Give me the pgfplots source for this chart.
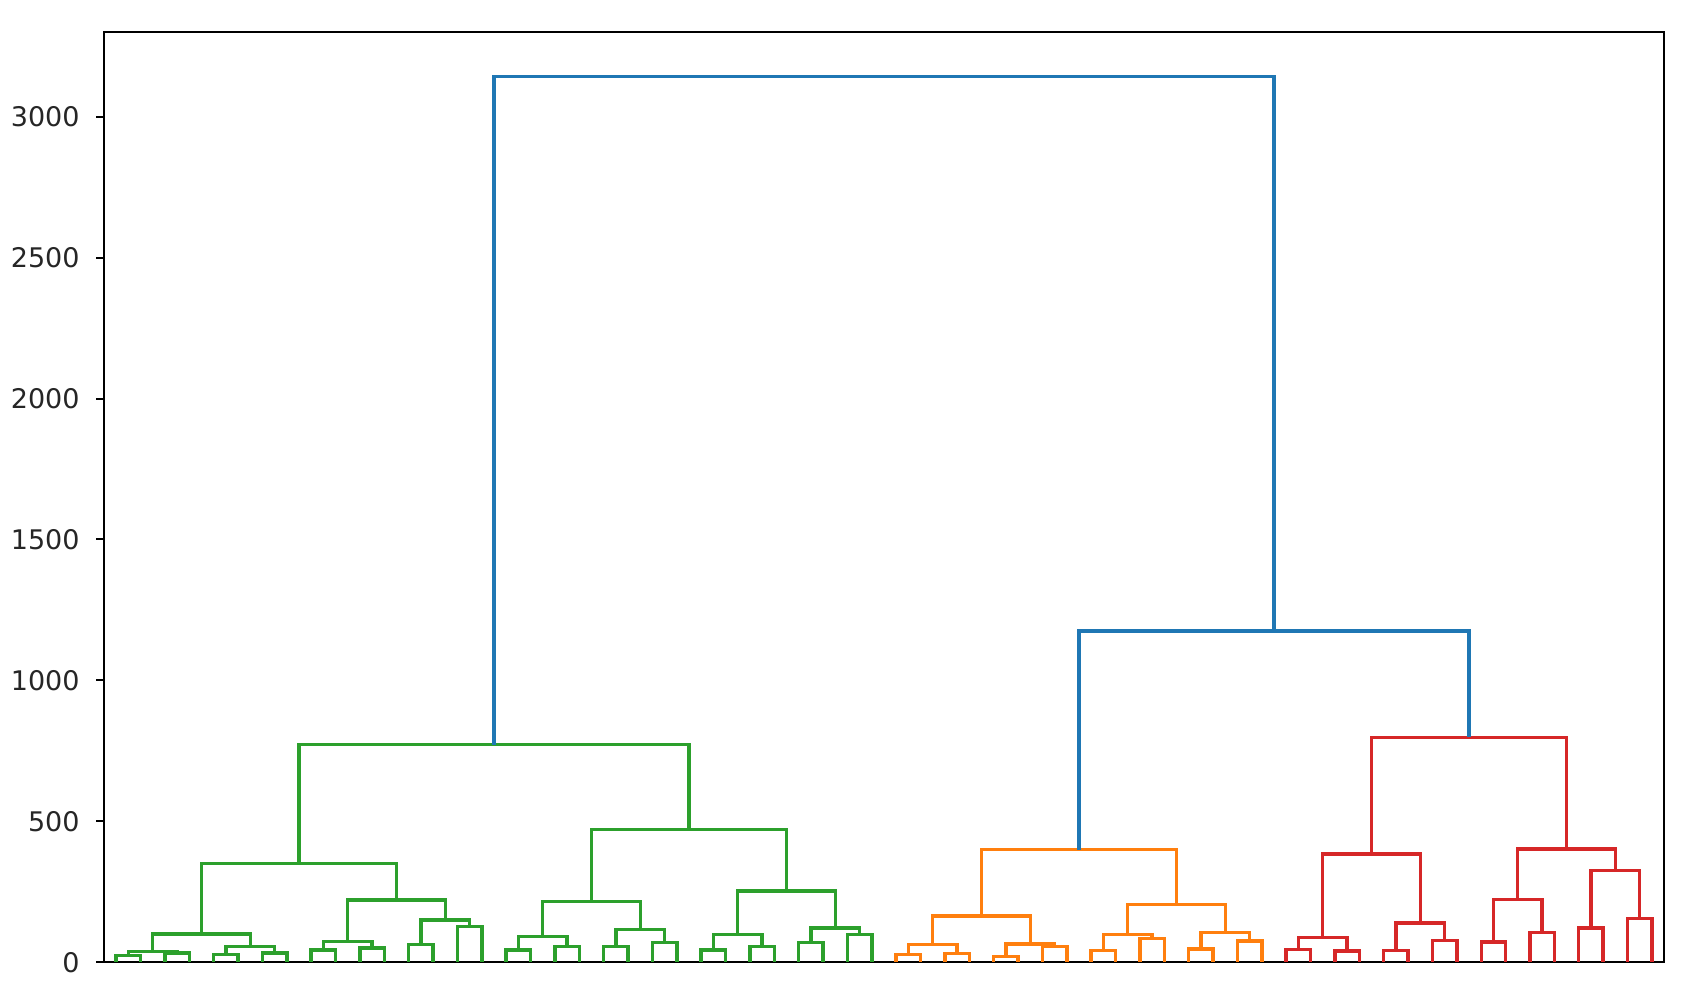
\documentclass[border=0pt]{standalone}
\usepackage{fontspec}
\setmainfont{DejaVu Sans}
\usepackage{pgfplots}
\pgfplotsset{compat=1.18}
\definecolor{mblue}{HTML}{1F77B4}
\definecolor{morange}{HTML}{FF7F0E}
\definecolor{mgreen}{HTML}{2CA02C}
\definecolor{mred}{HTML}{D62728}
% \U{colour}{x left}{h left}{x right}{h right}{merge height}
\newcommand{\U}[6]{\addplot[#1] coordinates {(#2,#3) (#2,#6) (#4,#6) (#4,#5)};}
\begin{document}
\begin{tikzpicture}
\useasboundingbox (-26pt,-8.85pt) rectangle (394.25pt,240.55pt);
\begin{axis}[
  at={(0,0)}, anchor=south west,
  width=390pt, height=232.5pt, scale only axis,
  xmin=0, xmax=640, ymin=0, ymax=3300,
  xtick=\empty,
  ytick={0,500,1000,1500,2000,2500,3000},
  axis line style={black, line width=0.5pt},
  tick align=outside,
  major tick length=1.9pt,
  ytick pos=left,
  every tick/.style={black, line width=0.5pt},
  /pgf/number format/assume math mode=true,
  /pgf/number format/1000 sep={},
  yticklabel style={font=\fontsize{6.75}{8}\selectfont, text=black!85, anchor=east, inner sep=0pt, xshift=-4pt},
  every axis plot/.append style={line width=0.85pt},
  clip=false,
]
% ---- green cluster (leaves 0-31)
\U{mgreen}{5}{0}{15}{0}{24}
\U{mgreen}{25}{0}{35}{0}{33}
\U{mgreen}{10}{24}{30}{33}{38}
\U{mgreen}{45}{0}{55}{0}{27}
\U{mgreen}{65}{0}{75}{0}{32}
\U{mgreen}{50}{27}{70}{32}{55}
\U{mgreen}{20}{38}{60}{55}{100}
\U{mgreen}{85}{0}{95}{0}{44}
\U{mgreen}{105}{0}{115}{0}{51}
\U{mgreen}{90}{44}{110}{51}{73}
\U{mgreen}{125}{0}{135}{0}{62}
\U{mgreen}{145}{0}{155}{0}{127}
\U{mgreen}{130}{62}{150}{127}{150}
\U{mgreen}{100}{73}{140}{150}{221}
\U{mgreen}{40}{100}{120}{221}{351}
\U{mgreen}{165}{0}{175}{0}{44}
\U{mgreen}{185}{0}{195}{0}{56}
\U{mgreen}{170}{44}{190}{56}{92}
\U{mgreen}{205}{0}{215}{0}{56}
\U{mgreen}{225}{0}{235}{0}{69}
\U{mgreen}{210}{56}{230}{69}{115}
\U{mgreen}{180}{92}{220}{115}{215}
\U{mgreen}{245}{0}{255}{0}{44}
\U{mgreen}{265}{0}{275}{0}{56}
\U{mgreen}{250}{44}{270}{56}{98}
\U{mgreen}{285}{0}{295}{0}{69}
\U{mgreen}{305}{0}{315}{0}{98}
\U{mgreen}{290}{69}{310}{98}{121}
\U{mgreen}{260}{98}{300}{121}{252}
\U{mgreen}{200}{215}{280}{252}{471}
\U{mgreen}{80}{351}{240}{471}{772}
% ---- orange cluster (leaves 32-47)
\U{morange}{325}{0}{335}{0}{27}
\U{morange}{345}{0}{355}{0}{30}
\U{morange}{330}{27}{350}{30}{62}
\U{morange}{365}{0}{375}{0}{21}
\U{morange}{385}{0}{395}{0}{56}
\U{morange}{370}{21}{390}{56}{65}
\U{morange}{340}{62}{380}{65}{164}
\U{morange}{405}{0}{415}{0}{41}
\U{morange}{425}{0}{435}{0}{85}
\U{morange}{410}{41}{430}{85}{99}
\U{morange}{445}{0}{455}{0}{47}
\U{morange}{465}{0}{475}{0}{75}
\U{morange}{450}{47}{470}{75}{105}
\U{morange}{420}{99}{460}{105}{204}
\U{morange}{360}{164}{440}{204}{399}
% ---- red cluster (leaves 48-63)
\U{mred}{485}{0}{495}{0}{45}
\U{mred}{505}{0}{515}{0}{40}
\U{mred}{490}{45}{510}{40}{87}
\U{mred}{525}{0}{535}{0}{41}
\U{mred}{545}{0}{555}{0}{77}
\U{mred}{530}{41}{550}{77}{139}
\U{mred}{500}{87}{540}{139}{384}
\U{mred}{565}{0}{575}{0}{71}
\U{mred}{585}{0}{595}{0}{106}
\U{mred}{570}{71}{590}{106}{222}
\U{mred}{605}{0}{615}{0}{122}
\U{mred}{625}{0}{635}{0}{156}
\U{mred}{610}{122}{630}{156}{325}
\U{mred}{580}{222}{620}{325}{402}
\U{mred}{520}{384}{600}{402}{798}
% ---- blue links above threshold
\U{mblue}{400}{399}{560}{798}{1175}
\U{mblue}{160}{772}{480}{1175}{3143}
\end{axis}
\end{tikzpicture}
\end{document}
